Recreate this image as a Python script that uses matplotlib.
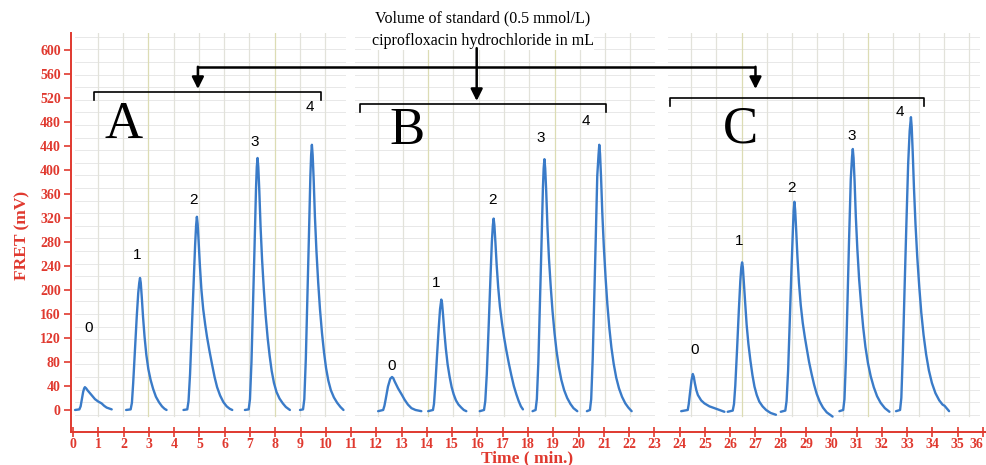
import matplotlib
matplotlib.use("Agg")
import matplotlib.pyplot as plt
import numpy as np

# ---------------- data ----------------
# each trace: list of (time min, FRET mV)
trace_A0 = [(0.08, 0), (0.25, 1), (0.30, 6), (0.35, 18), (0.40, 30), (0.44, 36), (0.47, 38), (0.52, 36),
            (0.57, 33), (0.67, 28), (0.77, 23), (0.87, 18), (1.00, 14), (1.13, 11), (1.23, 7), (1.33, 4),
            (1.53, 1)]
trace_A1 = [(2.10, 0), (2.28, 1), (2.33, 12), (2.38, 45), (2.45, 100), (2.52, 155), (2.58, 195), (2.62, 212),
            (2.65, 220), (2.68, 212), (2.72, 188), (2.77, 155), (2.83, 122), (2.90, 92), (2.98, 68),
            (3.07, 50), (3.17, 35), (3.28, 22), (3.40, 13), (3.52, 6), (3.62, 2), (3.70, 0)]
trace_A2 = [(4.37, 0), (4.52, 1), (4.57, 15), (4.63, 60), (4.70, 135), (4.77, 210), (4.83, 275), (4.87, 308),
            (4.90, 322), (4.93, 310), (4.97, 280), (5.02, 240), (5.08, 200), (5.15, 168), (5.23, 142),
            (5.30, 122), (5.40, 98), (5.50, 76), (5.60, 55), (5.70, 38), (5.82, 24), (5.95, 13), (6.08, 6),
            (6.20, 2), (6.30, 0)]
trace_A3 = [(6.80, 0), (6.95, 1), (7.00, 18), (7.06, 80), (7.12, 175), (7.18, 270), (7.24, 370), (7.27, 405),
            (7.30, 420), (7.33, 405), (7.37, 365), (7.42, 305), (7.48, 250), (7.55, 200), (7.62, 158),
            (7.70, 120), (7.78, 90), (7.86, 65), (7.95, 45), (8.05, 30), (8.17, 19), (8.30, 11), (8.42, 5),
            (8.58, 0)]
trace_A4 = [(8.98, 0), (9.10, 1), (9.15, 18), (9.21, 85), (9.27, 185), (9.33, 285), (9.39, 390), (9.42, 425),
            (9.45, 442), (9.48, 425), (9.52, 385), (9.57, 322), (9.63, 265), (9.70, 212), (9.77, 168),
            (9.85, 128), (9.93, 96), (10.01, 70), (10.10, 49), (10.20, 33), (10.32, 21), (10.45, 12),
            (10.58, 5), (10.70, 0)]

trace_B0 = [(12.07, -2), (12.27, 0), (12.32, 7), (12.37, 18), (12.46, 39), (12.55, 52), (12.62, 55),
            (12.67, 53), (12.72, 48), (12.86, 36), (13.00, 26), (13.12, 17), (13.25, 9), (13.39, 3),
            (13.55, 0), (13.78, -2)]
trace_B1 = [(14.05, -2), (14.24, 0), (14.28, 10), (14.33, 40), (14.40, 90), (14.47, 138), (14.52, 168),
            (14.57, 184), (14.60, 178), (14.64, 158), (14.69, 130), (14.75, 102), (14.82, 76), (14.90, 55),
            (14.98, 38), (15.06, 26), (15.15, 16), (15.25, 9), (15.36, 4), (15.46, 0), (15.56, -2)]
trace_B2 = [(16.09, -2), (16.26, 0), (16.31, 15), (16.37, 60), (16.44, 135), (16.51, 215), (16.57, 280),
            (16.61, 308), (16.64, 319), (16.67, 308), (16.71, 280), (16.76, 242), (16.82, 205), (16.89, 172),
            (16.97, 145), (17.05, 122), (17.14, 100), (17.24, 78), (17.34, 58), (17.44, 40), (17.54, 26),
            (17.63, 15), (17.72, 6), (17.80, 1)]
trace_B3 = [(18.18, -2), (18.30, 0), (18.35, 18), (18.41, 80), (18.47, 175), (18.53, 270), (18.59, 370),
            (18.62, 403), (18.65, 418), (18.68, 403), (18.72, 365), (18.77, 305), (18.83, 252), (18.90, 205),
            (18.97, 165), (19.05, 128), (19.13, 98), (19.22, 72), (19.32, 50), (19.43, 33), (19.55, 20),
            (19.68, 10), (19.80, 3), (19.95, -2)]
trace_B4 = [(20.33, -2), (20.45, 0), (20.50, 18), (20.56, 85), (20.62, 185), (20.68, 285), (20.74, 390),
            (20.79, 425), (20.82, 442), (20.85, 427), (20.89, 388), (20.94, 328), (21.00, 272), (21.07, 220),
            (21.14, 176), (21.22, 136), (21.30, 104), (21.39, 77), (21.49, 54), (21.60, 36), (21.72, 22),
            (21.85, 11), (21.97, 4), (22.10, -2)]

trace_C0 = [(24.06, -2), (24.32, 0), (24.36, 10), (24.40, 25), (24.47, 50), (24.52, 60), (24.56, 55),
            (24.60, 45), (24.66, 33), (24.72, 25), (24.85, 16), (24.98, 11), (25.18, 6), (25.38, 3),
            (25.77, -3)]
trace_C1 = [(25.90, -3), (26.10, -1), (26.15, 10), (26.20, 40), (26.27, 100), (26.34, 165), (26.40, 215),
            (26.44, 238), (26.47, 246), (26.50, 238), (26.54, 212), (26.59, 180), (26.65, 142), (26.72, 110),
            (26.80, 82), (26.88, 58), (26.96, 39), (27.05, 25), (27.15, 14), (27.28, 6), (27.42, 0),
            (27.60, -5), (27.81, -8)]
trace_C2 = [(28.00, -3), (28.18, -1), (28.23, 15), (28.29, 65), (28.35, 140), (28.42, 230), (28.48, 300),
            (28.51, 332), (28.54, 347), (28.57, 333), (28.61, 300), (28.66, 255), (28.72, 212), (28.79, 175),
            (28.87, 145), (28.95, 122), (29.03, 102), (29.12, 80), (29.22, 60), (29.32, 42), (29.42, 27),
            (29.54, 14), (29.67, 4), (29.82, -4), (30.05, -11)]
trace_C3 = [(30.32, -2), (30.47, 0), (30.52, 18), (30.58, 85), (30.64, 180), (30.70, 280), (30.77, 385),
            (30.82, 422), (30.85, 435), (30.88, 420), (30.92, 382), (30.97, 322), (31.03, 268), (31.10, 218),
            (31.18, 175), (31.26, 138), (31.35, 105), (31.45, 78), (31.56, 56), (31.68, 38), (31.81, 23),
            (31.95, 12), (32.12, 3), (32.30, -3)]
trace_C4 = [(32.56, -2), (32.72, 0), (32.77, 20), (32.83, 95), (32.90, 205), (32.97, 310), (33.04, 410),
            (33.10, 465), (33.15, 488), (33.18, 472), (33.22, 430), (33.27, 370), (33.33, 310), (33.40, 255),
            (33.48, 205), (33.56, 162), (33.65, 125), (33.75, 93), (33.86, 66), (33.98, 45), (34.12, 28),
            (34.27, 16), (34.40, 9), (34.48, 7), (34.54, 4), (34.66, -2)]

traces = [trace_A0, trace_A1, trace_A2, trace_A3, trace_A4,
          trace_B0, trace_B1, trace_B2, trace_B3, trace_B4,
          trace_C0, trace_C1, trace_C2, trace_C3, trace_C4]

# volume labels (text, time, mV)
vol_labels = ["0", "1", "2", "3", "4"] * 3
vol_label_t = [0.61, 2.52, 4.78, 7.19, 9.39,
               12.60, 14.35, 16.60, 18.49, 20.30,
               24.58, 26.34, 28.42, 30.80, 32.70]
vol_label_v = [136, 258, 350, 447, 505,
               74, 212, 350, 453, 481,
               100, 282, 370, 457, 496]

panel_names = ["A", "B", "C"]
panel_name_t = [2.0, 13.2, 26.4]
panel_name_v = [475, 465, 467]
bracket_t0 = [0.83, 11.35, 23.60]
bracket_t1 = [9.80, 21.10, 33.65]
bracket_v = [530, 510, 520]
arrow_t = [4.94, 15.97, 27.00]

paper_t0 = [0.08, 11.15, 23.55]
paper_t1 = [10.75, 23.00, 35.85]

x_ticks = list(range(0, 37))
y_ticks = list(range(0, 601, 40))

title_lines = ["Volume of standard (0.5 mmol/L)", "ciprofloxacin hydrochloride in mL"]

# ---------------- figure ----------------
W, H = 986, 465
fig = plt.figure(figsize=(W / 100, H / 100), dpi=100)
ax = fig.add_axes([70.5 / W, (H - 432) / H, (985.5 - 70.5) / W, (432 - 33) / H])
ax.set_xlim(-0.1, 36.1)
ax.set_ylim(-36.7, 628.3)

red = "#e0392f"
serif = ["Liberation Serif", "DejaVu Serif"]

# chart-paper backgrounds
for p0, p1 in zip(paper_t0, paper_t1):
    for hv in np.arange(-8, 628, 21):
        ax.plot([p0, p1], [hv, hv], color="#e8e8e8", lw=0.7, zorder=0)
    for k, vx in enumerate(np.arange(p0 + 0.9, p1, 1.0)):
        col = "#dcdcb4" if k % 5 == 2 else "#e2e2da"
        ax.plot([vx, vx], [-10, 628], color=col, lw=0.9, zorder=0)

# traces
for tr in traces:
    t = [p[0] for p in tr]
    v = [p[1] for p in tr]
    ax.plot(t, v, color="#3a7bc8", lw=1.7, solid_capstyle="round", solid_joinstyle="round", zorder=3)

# volume labels
for s, t, v in zip(vol_labels, vol_label_t, vol_label_v):
    ax.text(t, v, s, ha="center", va="center", fontsize=11, family=["Liberation Sans", "DejaVu Sans"],
            color="black", zorder=4)

# panel letters and brackets
for name, nt, nv, b0, b1, bv in zip(panel_names, panel_name_t, panel_name_v, bracket_t0, bracket_t1, bracket_v):
    ax.text(nt, nv, name, ha="center", va="center", fontsize=38, family=serif, color="black", zorder=4)
    ax.plot([b0, b0, b1, b1], [bv - 13, bv, bv, bv - 13], color="black", lw=1.2, zorder=4)

# arrows
ax.plot([arrow_t[0], arrow_t[2]], [572, 572], color="black", lw=1.8, zorder=4, solid_capstyle="butt")
for at, top, tip in zip(arrow_t, [572, 603, 572], [535, 515, 535]):
    ax.annotate("", xy=(at, tip), xytext=(at, top),
                arrowprops=dict(arrowstyle="-|>,head_length=0.7,head_width=0.35", lw=1.8,
                                color="black", shrinkA=0, shrinkB=0),
                annotation_clip=False, zorder=4)

# title text
ax.text(16.2, 653, title_lines[0], ha="center", va="center", fontsize=11.5, family=serif,
        color="black", clip_on=False)
ax.text(16.2, 615, title_lines[1], ha="center", va="center", fontsize=11.5, family=serif,
        color="black", clip_on=False, bbox=dict(facecolor="white", edgecolor="none", pad=0.5))

# axes styling
for s in ["top", "right"]:
    ax.spines[s].set_visible(False)
ax.spines["left"].set_color(red)
ax.spines["bottom"].set_color(red)
ax.spines["left"].set_linewidth(1.4)
ax.spines["bottom"].set_linewidth(1.4)
ax.spines["left"].set_bounds(-36.7, 628.3)
ax.set_xticks(x_ticks)
ax.set_yticks(y_ticks)
ax.tick_params(axis="x", direction="inout", length=7, width=1.2, color=red, labelcolor=red, pad=1)
ax.tick_params(axis="y", direction="out", length=5, width=1.2, color=red, labelcolor=red, pad=2)
for lab in ax.get_xticklabels() + ax.get_yticklabels():
    lab.set_family(serif)
    lab.set_fontweight("bold")
    lab.set_fontsize(10)
ax.get_xticklabels()[-1].set_horizontalalignment("right")

fig.text(22 / W, 1 - 235 / H, "FRET (mV)", rotation=90, ha="center", va="center", fontsize=12.5,
         fontweight="bold", family=serif, color=red)
fig.text(527 / W, 1 - 458 / H, "Time ( min.)", ha="center", va="center", fontsize=12.5,
         fontweight="bold", family=serif, color=red)

fig.savefig("out.png", dpi=100, facecolor="white")
